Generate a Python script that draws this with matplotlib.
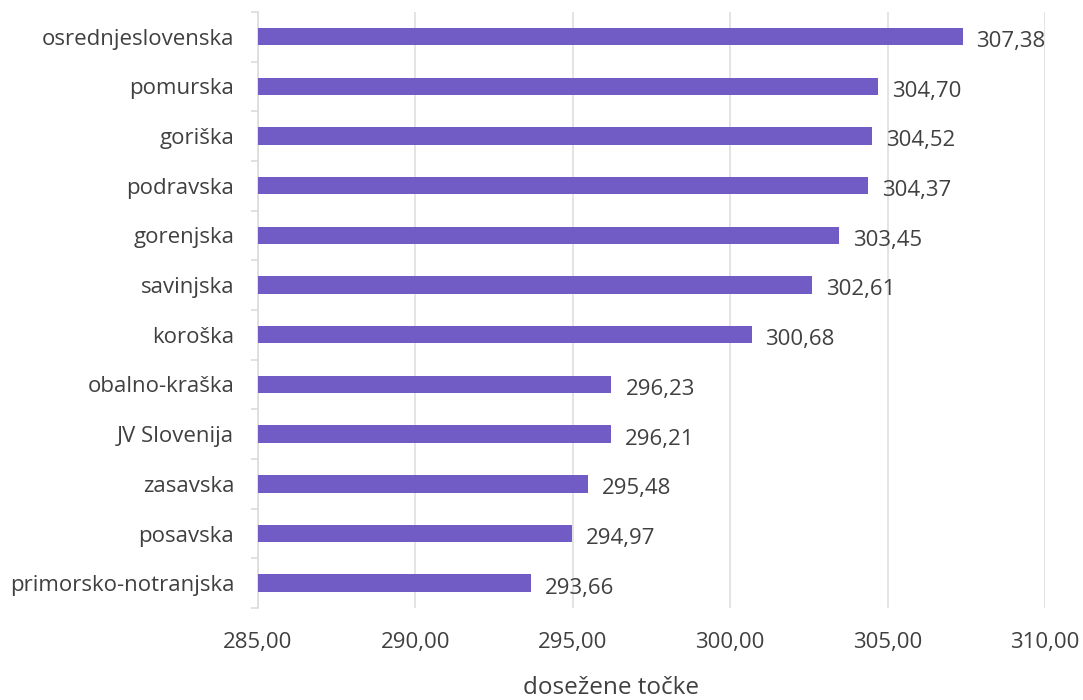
import matplotlib.pyplot as plt
import numpy as np
from matplotlib.ticker import FuncFormatter, FixedLocator

plt.rcParams['font.family'] = ['Open Sans', 'DejaVu Sans']

regions = ['osrednjeslovenska', 'pomurska', 'goriška', 'podravska', 'gorenjska',
           'savinjska', 'koroška', 'obalno-kraška', 'JV Slovenija', 'zasavska',
           'posavska', 'primorsko-notranjska']
points = [307.38, 304.70, 304.52, 304.37, 303.45, 302.61, 300.68, 296.23,
          296.21, 295.48, 294.97, 293.66]
x_ticks = [285, 290, 295, 300, 305, 310]

bar_color = '#705cc4'
text_color = '#404040'
grid_color = '#dcdcdc'

fig = plt.figure(figsize=(10.83, 7.0), dpi=100)
ax = fig.add_axes([0.2382, 0.1314, 0.7267, 0.8516])

y = np.arange(len(regions))
base = x_ticks[0]
ax.barh(y, np.array(points) - base, left=base, height=0.35, color=bar_color, zorder=3)

for yi, v in zip(y, points):
    ax.annotate(f'{v:.2f}'.replace('.', ','), (v, yi), xytext=(10, -3.5),
                textcoords='offset points', ha='left', va='center',
                fontsize=16, color=text_color)

ax.set_xlim(x_ticks[0], x_ticks[-1])
ax.set_ylim(len(regions) - 0.5, -0.5)
ax.set_xticks(x_ticks)
ax.xaxis.set_major_formatter(FuncFormatter(lambda v, p: f'{v:.2f}'.replace('.', ',')))
ax.set_yticks(y)
ax.set_yticklabels(regions)
ax.yaxis.set_minor_locator(FixedLocator(np.arange(len(regions) + 1) - 0.5))

ax.tick_params(axis='y', which='major', length=0, pad=17, labelsize=16, labelcolor=text_color)
ax.tick_params(axis='y', which='minor', length=5, width=1.2, color=grid_color)
ax.tick_params(axis='x', length=0, pad=17, labelsize=16, labelcolor=text_color)

ax.grid(axis='x', color=grid_color, linewidth=1.1, zorder=0)
for s in ['top', 'right', 'bottom']:
    ax.spines[s].set_visible(False)
ax.spines['left'].set_color(grid_color)
ax.spines['left'].set_linewidth(1.2)

ax.set_xlabel('dosežene točke', fontsize=17.5, color=text_color)
ax.xaxis.set_label_coords(0.449, -0.134)
ax.xaxis.label.set_va('center')

fig.savefig('out.png', dpi=100)
